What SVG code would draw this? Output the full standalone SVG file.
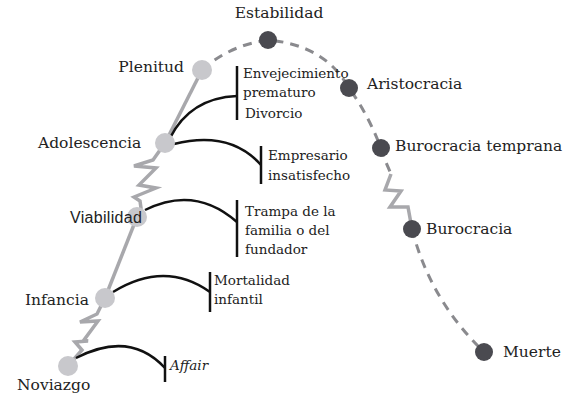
<svg xmlns="http://www.w3.org/2000/svg" width="578" height="405" viewBox="0 0 578 405">
<style>
.t{font-family:"DejaVu Serif",serif;font-size:15.5px;fill:#222}
.s{font-family:"DejaVu Serif",serif;font-size:13.5px;fill:#222}
.lt{fill:#c8c8cc}
.dk{fill:#4a4a50}
.solid{fill:none;stroke:#a8a8ac;stroke-width:3.5;stroke-linejoin:miter}
.dash{fill:none;stroke:#8a8a8e;stroke-width:3;stroke-dasharray:9 7}
.arc{fill:none;stroke:#111;stroke-width:2.5}
.bar{stroke:#111;stroke-width:2.5}
</style>
<rect width="578" height="405" fill="#fff"/>
<g id="connectors">
<path class="solid" d="M68,366 L82,350 L75,342 L88,341 L84,340 L98,321 L80,322 L97,314 L105,298"/>
<path class="solid" d="M105,298 L137,217"/>
<path class="solid" d="M137,217 L141,208 L140,201 L134,197 L156,188 L139,185 L156,168 L134,166 L153,160 L165,143"/>
<path class="solid" d="M165,143 L202,70"/>
<path class="dash" d="M202,70 Q230,45 268,40 Q325,45 349,88 Q372,120 385,160 L391,174"/>
<path class="solid" d="M391,174 L385,190 L401,191 L390,207 L408,207 L412,229"/>
<path class="dash" d="M412,229 Q430,300 484,352"/>
<path class="arc" d="M170,138 Q190,98 237,96"/>
<line class="bar" x1="237" y1="66" x2="237" y2="120"/>
<path class="arc" d="M174,144 Q230,130 261,165"/>
<line class="bar" x1="261" y1="146" x2="261" y2="184"/>
<path class="arc" d="M145,210 Q195,185 237,222"/>
<line class="bar" x1="237" y1="200" x2="237" y2="257"/>
<path class="arc" d="M113,292 Q165,260 210,292"/>
<line class="bar" x1="210" y1="272" x2="210" y2="312"/>
<path class="arc" d="M76,358 Q130,330 165,368"/>
<line class="bar" x1="165" y1="356" x2="165" y2="382"/>
</g>
<g id="noviazgo"><circle class="lt" cx="68" cy="366" r="10"/><text class="t" x="17" y="390">Noviazgo</text></g>
<g id="infancia"><circle class="lt" cx="105" cy="298" r="10"/><text class="t" x="25" y="305">Infancia</text></g>
<g id="viabilidad"><circle class="lt" cx="137" cy="217" r="10"/><text x="70" y="223" style="font-family:'Liberation Sans',sans-serif;font-size:16px;letter-spacing:0.3px;fill:#222">Viabilidad</text></g>
<g id="adolescencia"><circle class="lt" cx="165" cy="143" r="10"/><text class="t" x="38" y="148">Adolescencia</text></g>
<g id="plenitud"><circle class="lt" cx="202" cy="70" r="10"/><text class="t" x="184" y="72" text-anchor="end">Plenitud</text></g>
<g id="estabilidad"><circle class="dk" cx="268" cy="40" r="9"/><text class="t" x="279" y="18" text-anchor="middle">Estabilidad</text></g>
<g id="aristocracia"><circle class="dk" cx="349" cy="88" r="9"/><text class="t" x="367" y="89">Aristocracia</text></g>
<g id="burocracia-temprana"><circle class="dk" cx="381" cy="148" r="9"/><text class="t" x="395" y="151">Burocracia temprana</text></g>
<g id="burocracia"><circle class="dk" cx="412" cy="229" r="9"/><text class="t" x="426" y="234">Burocracia</text></g>
<g id="muerte"><circle class="dk" cx="484" cy="352" r="9"/><text class="t" x="503" y="357">Muerte</text></g>
<g id="envejecimiento"><text class="s" x="243" y="78">Envejecimiento</text><text class="s" x="243" y="97">prematuro</text><text class="s" x="245" y="118">Divorcio</text></g>
<g id="empresario"><text class="s" x="268" y="160">Empresario</text><text class="s" x="268" y="180">insatisfecho</text></g>
<g id="trampa"><text class="s" x="245" y="216">Trampa de la</text><text class="s" x="245" y="235">familia o del</text><text class="s" x="245" y="254">fundador</text></g>
<g id="mortalidad"><text class="s" x="214" y="285">Mortalidad</text><text class="s" x="214" y="304">infantil</text></g>
<g id="affair"><text class="s" x="170" y="370" font-style="italic">Affair</text></g>
</svg>
